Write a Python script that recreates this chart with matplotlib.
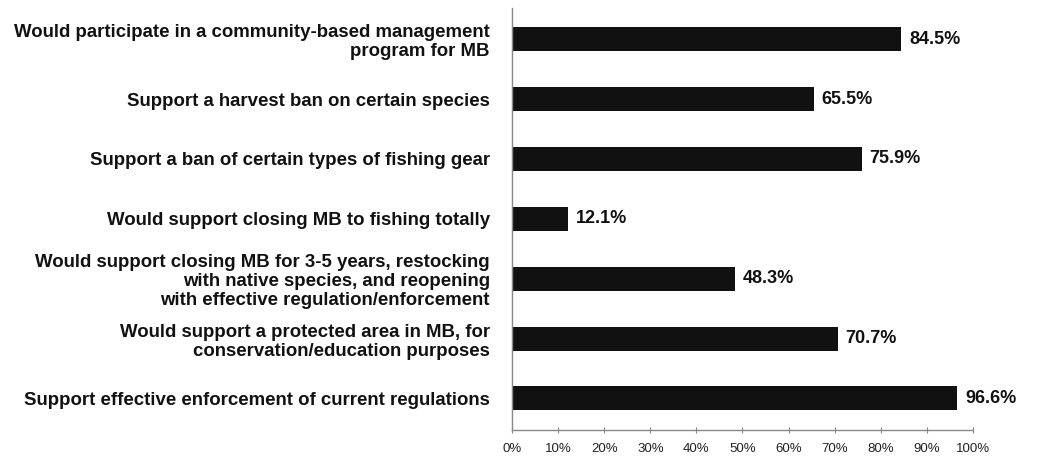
import matplotlib
matplotlib.use("Agg")
import matplotlib.pyplot as plt

categories = [
    "Would participate in a community-based management\nprogram for MB",
    "Support a harvest ban on certain species",
    "Support a ban of certain types of fishing gear",
    "Would support closing MB to fishing totally",
    "Would support closing MB for 3-5 years, restocking\nwith native species, and reopening\nwith effective regulation/enforcement",
    "Would support a protected area in MB, for\nconservation/education purposes",
    "Support effective enforcement of current regulations",
]
values = [84.5, 65.5, 75.9, 12.1, 48.3, 70.7, 96.6]
xticks = [0, 10, 20, 30, 40, 50, 60, 70, 80, 90, 100]
xticklabels = [f"{t}%" for t in xticks]

plt.rcParams['font.family'] = ['Liberation Sans', 'DejaVu Sans']

fig = plt.figure(figsize=(10.61, 4.58), dpi=100)
ax = fig.add_axes([0.4826, 0.062, 0.917 - 0.4826, 0.9825 - 0.062])

pos = list(range(len(categories)))[::-1]
ax.barh(pos, values, height=0.4, color="#111111")
for p, v in zip(pos, values):
    ax.text(v + 1.7, p, f"{v}%", va="center", ha="left", fontsize=13, fontweight="bold", color="#111111")

ax.set_xlim(0, 100)
ax.set_ylim(-0.52, 6.52)
ax.set_xticks(xticks)
ax.set_xticklabels(xticklabels, fontsize=9.5, color="#222222")
ax.set_yticks(pos)
ax.set_yticklabels(categories, fontsize=13.4, fontweight="bold", color="#111111", linespacing=1.15)
ax.tick_params(axis="y", length=0, pad=16)
ax.tick_params(axis="x", direction="inout", length=5, color="#888888", pad=7)
for s in ["top", "right"]:
    ax.spines[s].set_visible(False)
for s in ["left", "bottom"]:
    ax.spines[s].set_color("#888888")
    ax.spines[s].set_linewidth(1)

fig.savefig("out.png", dpi=100)
